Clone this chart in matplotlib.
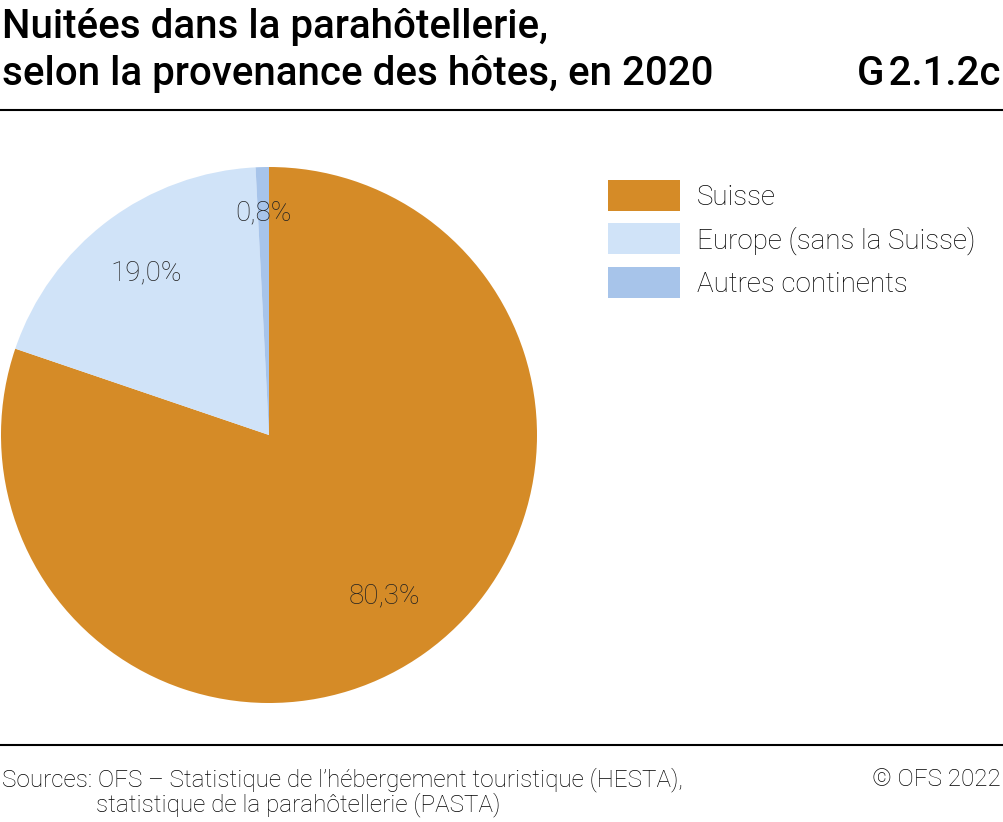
import numpy as np
import matplotlib
matplotlib.use("Agg")
import matplotlib.pyplot as plt
from matplotlib.patches import Patch

plt.rcParams['font.family'] = ['Roboto', 'DejaVu Sans']

categories = ["Suisse", "Europe (sans la Suisse)", "Autres continents"]
values = [80.3, 19.0, 0.8]
labels = ["80,3%", "19,0%", "0,8%"]
colors = ["#D58B27", "#D0E3F8", "#A7C4EA"]
label_dist = [0.74, 0.76, 0.83]

fig = plt.figure(figsize=(10.04, 8.22), dpi=100)

# titre
fig.text(2/1004, 1 - 38/822, "Nuitées dans la parahôtellerie,", fontsize=29,
         fontweight='medium', color='black', va='baseline')
fig.text(2/1004, 1 - 85/822, "selon la provenance des hôtes, en 2020", fontsize=29,
         fontweight='medium', color='black', va='baseline')
fig.text(1001/1004, 1 - 85/822, "G\u200a2.1.2c", fontsize=29,
         fontweight='medium', color='black', va='baseline', ha='right')

fig.add_artist(plt.Line2D([0, 1], [1 - 110/822] * 2, color='black', lw=1.5))
fig.add_artist(plt.Line2D([0, 1], [1 - 745/822] * 2, color='black', lw=1.5))

# camembert
ax = fig.add_axes([1/1004, (822 - 435 - 268)/822, 536/1004, 536/822])
wedges, _ = ax.pie(values, colors=colors, startangle=90, counterclock=False,
                   radius=1)
ax.set_xlim(-1, 1)
ax.set_ylim(-1, 1)
ax.set_aspect('equal')
ax.axis('off')

for w, lab, d in zip(wedges, labels, label_dist):
    ang = np.deg2rad((w.theta1 + w.theta2) / 2)
    ax.text(d * np.cos(ang), d * np.sin(ang), lab, ha='center', va='center',
            fontsize=20, fontweight='light', color='#222222')

handles = [Patch(facecolor=c, edgecolor='none') for c in colors]
fig.legend(handles, categories, loc='upper left',
           bbox_to_anchor=(608/1004, 1 - 180/822), frameon=False,
           prop={'weight': 'light', 'size': 20},
           handlelength=2.6, handleheight=1.34, handletextpad=0.6,
           labelspacing=0.45, borderpad=0, borderaxespad=0)

# sources
fig.text(2/1004, 1 - 786/822, "Sources: OFS – Statistique de l’hébergement touristique (HESTA),",
         fontsize=17.5, fontweight='light', color='black', va='baseline')
fig.text(96/1004, 1 - 811/822, "statistique de la parahôtellerie (PASTA)",
         fontsize=17.5, fontweight='light', color='black', va='baseline')
fig.text(1001/1004, 1 - 786/822, "© OFS 2022", fontsize=17.5, fontweight='light',
         color='black', va='baseline', ha='right')

fig.savefig("out.png", dpi=100)
